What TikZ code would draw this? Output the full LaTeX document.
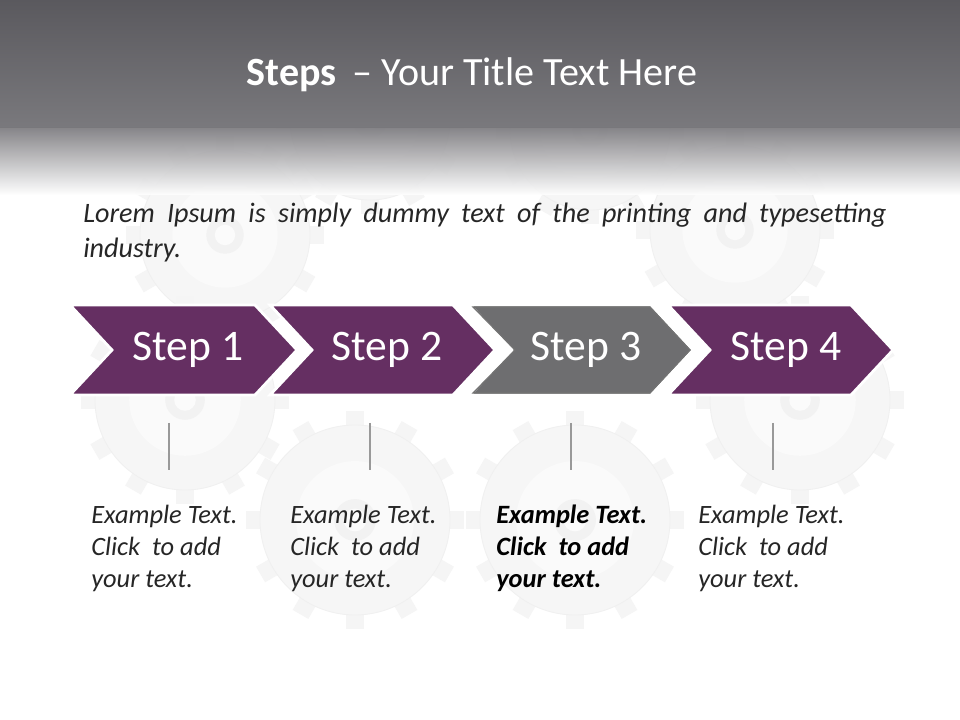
\documentclass[tikz,border=0pt]{standalone}
\usepackage{fontspec}
\setmainfont{Carlito}
\begin{document}
\begin{tikzpicture}[x=0.025cm,y=-0.025cm,
  chev/.style={fill=stpurple,draw=white,line width=2pt},
  chevg/.style={fill=stgray,draw=white,line width=2pt},
  steplbl/.style={text=white,font=\fontsize{31}{34}\selectfont},
  body/.style={font=\itshape\fontsize{18.8}{22.7}\selectfont,text=black!85,align=left,anchor=north west,inner sep=0pt},
  vline/.style={draw=gray!80,line width=1.5pt},
  gearc/.style={fill=gray!7,draw=gray!12,line width=0.6pt}]
\definecolor{stpurple}{HTML}{652F62}
\definecolor{stgray}{HTML}{6E6E70}
\definecolor{bandtop}{HTML}{5A595E}
\definecolor{bandbot}{HTML}{7A797D}
\useasboundingbox (0,0) rectangle (960,720);
\fill[white] (0,0) rectangle (960,720);
% faint gears
\foreach \cx/\cy/\r in {225/235/85,370/120/80,590/130/80,735/230/85,185/400/90,355/520/95,575/520/95,800/400/90}{
  \foreach \a in {0,30,...,330}{
    \fill[gray!8,rotate around={\a:(\cx,\cy)}] (\cx-9,\cy-\r-14) rectangle (\cx+9,\cy-\r+4);
  }
  \fill[gearc] (\cx,\cy) circle (\r);
  \fill[gray!4] (\cx,\cy) circle (0.62*\r);
  \fill[gray!10] (\cx,\cy) circle (0.22*\r);
  \fill[gray!3] (\cx,\cy) circle (0.12*\r);
}
% title band
\shade[top color=bandtop,bottom color=bandbot] (0,0) rectangle (960,128);
\shade[top color=bandbot,bottom color=white,opacity=0.9] (0,128) rectangle (960,195);
\node[text=white,font=\fontsize{28.5}{32}\selectfont] (title) at (472,75) {\textbf{Steps} \,– Your Title Text Here};
\node[body,font=\itshape\fontsize{20}{24.8}\selectfont,text width=20.075cm,align=justify] (intro) at (83,203)
 {Lorem Ipsum is simply dummy text of the printing and typesetting\linebreak industry.};
% chevrons
\fill[chev] (70,305)--(255,305)--(297,350)--(255,395)--(70,395)--(112,350)--cycle;
\fill[chev] (270,305)--(453,305)--(495,350)--(453,395)--(270,395)--(312,350)--cycle;
\fill[chev] (668,305)--(851,305)--(893,350)--(851,395)--(668,395)--(710,350)--cycle;
\filldraw[chevg] (470,305)--(651,305)--(693,350)--(651,395)--(470,395)--(512,350)--cycle;
\draw[draw=black!55,line width=0.8pt] (473,307)--(650,307)--(690,350)--(650,393)--(473,393)--(515,350)--cycle;
\node[steplbl] (s1) at (188,350) {Step 1};
\node[steplbl] (s2) at (387,350) {Step 2};
\node[steplbl] (s3) at (586,350) {Step 3};
\node[steplbl] (s4) at (786,350) {Step 4};
% lines
\foreach \x/\n in {169/1,370/2,571/3,773/4}{
  \coordinate (t\n) at (\x,423); \coordinate (b\n) at (\x,470);
  \draw[vline] (t\n)--(b\n);
}
\node[body] (e1) at (91,505) {Example Text.\\Click \ to add\\your text.};
\node[body] (e2) at (290,505) {Example Text.\\Click \ to add\\your text.};
\node[body,font=\bfseries\itshape\fontsize{18.8}{22.7}\selectfont,text=black] (e3) at (496,505) {Example Text.\\Click \ to add\\your text.};
\node[body] (e4) at (698,505) {Example Text.\\Click \ to add\\your text.};
\end{tikzpicture}
\end{document}
